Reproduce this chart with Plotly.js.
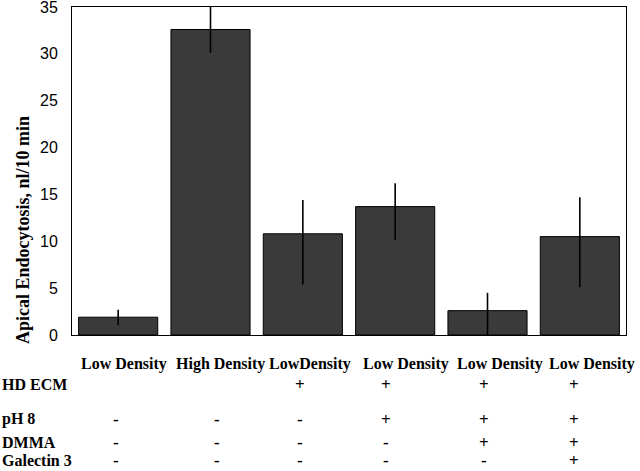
<!DOCTYPE html>
<html>
<head>
<meta charset="utf-8">
<script src="https://cdn.plot.ly/plotly-3.0.1.min.js"></script>
<style>html,body{margin:0;padding:0;background:#fff;}#chart{width:640px;height:471px;}</style>
</head>
<body>
<div id="chart"></div>
<script>
// ---- data ----
const groupLabels = ['Low Density', 'High Density', 'LowDensity', 'Low Density', 'Low Density', 'Low Density'];
const meanValues = [1.9, 32.6, 10.8, 13.7, 2.6, 10.5];
const errorPlus = [0.8, 2.8, 3.6, 2.5, 1.9, 4.2];
const errorMinus = [0.85, 2.5, 5.4, 3.6, 2.6, 5.4];
const rowNames = ['HD ECM', 'pH 8', 'DMMA', 'Galectin 3'];
const hdEcm = ['', '', '+', '+', '+', '+'];
const ph8 = ['-', '-', '-', '+', '+', '+'];
const dmma = ['-', '-', '-', '-', '+', '+'];
const galectin3 = ['-', '-', '-', '-', '-', '+'];
const yTickValues = [0, 5, 10, 15, 20, 25, 30, 35];

// ---- style / layout helpers ----
const serif = 'Liberation Serif, Times New Roman, serif';
const headerShift = [6, 10, 7, 11, 12, 12];
const symbolShift = [-2, 6, -3, -9, -4, -6];
const rowYShift = [-49, -84, -107, -125];
const headerYShift = -29;
const xIdx = groupLabels.map((_, i) => i);

const annotations = [];
groupLabels.forEach((lab, i) => {
  annotations.push({xref: 'x', yref: 'paper', x: i, y: 0, xshift: headerShift[i], yshift: headerYShift,
    text: lab, showarrow: false, xanchor: 'center', yanchor: 'middle',
    font: {family: serif, size: 16, color: '#000', weight: 'bold'}});
});
const rows = [hdEcm, ph8, dmma, galectin3];
rows.forEach((row, r) => {
  annotations.push({xref: 'paper', yref: 'paper', x: 0, y: 0, xshift: -72, yshift: rowYShift[r],
    text: rowNames[r], showarrow: false, xanchor: 'left', yanchor: 'middle',
    font: {family: serif, size: 16, color: '#000', weight: 'bold'}});
  row.forEach((s, i) => {
    if (!s) return;
    annotations.push({xref: 'x', yref: 'paper', x: i, y: 0, xshift: symbolShift[i], yshift: rowYShift[r],
      text: s, showarrow: false, xanchor: 'center', yanchor: 'middle',
      font: {family: serif, size: 17, color: '#000', weight: 'bold'}});
  });
});
// y-axis title
annotations.push({xref: 'paper', yref: 'paper', x: 0, y: 0.32, xshift: -49,
  text: 'Apical Endocytosis, nl/10 min', textangle: -90, showarrow: false,
  xanchor: 'center', yanchor: 'middle',
  font: {family: serif, size: 18, color: '#000', weight: 'bold'}});

const trace = {
  type: 'bar', x: xIdx, y: meanValues,
  marker: {color: '#3a3a3a', line: {color: '#000', width: 1}},
  error_y: {type: 'data', symmetric: false, array: errorPlus, arrayminus: errorMinus,
    width: 0, thickness: 1.6, color: '#000'},
  cliponaxis: false,
  hoverinfo: 'y'
};

const layout = {
  width: 640, height: 471,
  margin: {l: 72, r: 14, t: 7, b: 136},
  paper_bgcolor: '#fff', plot_bgcolor: '#fff',
  bargap: 0.143,
  showlegend: false,
  xaxis: {range: [-0.5, 5.5], showticklabels: false, ticks: '', showgrid: false, zeroline: false,
    showline: true, mirror: true, linecolor: '#000', linewidth: 1},
  yaxis: {range: [0, 35], tickvals: yTickValues, ticks: '', showgrid: false, zeroline: false,
    showline: true, mirror: true, linecolor: '#000', linewidth: 1,
    ticklabelstandoff: 10, ticklabeloverflow: 'allow',
    tickfont: {family: 'Liberation Sans, Arial, sans-serif', size: 16, color: '#000'}},
  annotations: annotations
};

Plotly.newPlot('chart', [trace], layout, {displayModeBar: false, staticPlot: true});
</script>
</body>
</html>
